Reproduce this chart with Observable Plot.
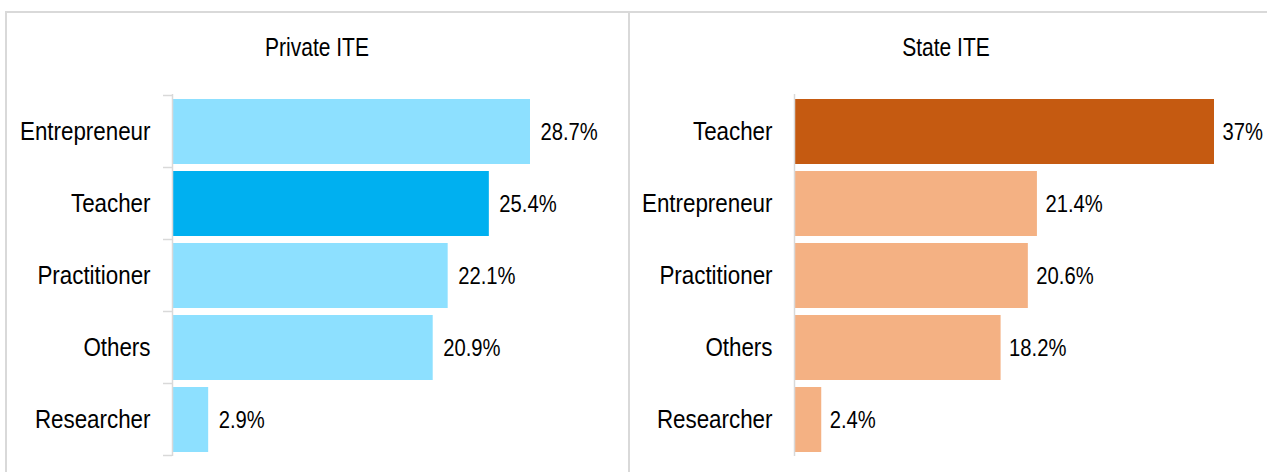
<!DOCTYPE html>
<html><head><meta charset="utf-8">
<script src="https://cdn.jsdelivr.net/npm/d3@7"></script>
<script src="https://cdn.jsdelivr.net/npm/@observablehq/plot@0.6"></script>
<style>
html,body{margin:0;padding:0;background:#fff;overflow:hidden}
#wrap{position:relative;width:1267px;height:472px;overflow:hidden;font-family:"Liberation Sans",Arial,sans-serif;color:#000}
.panel{position:absolute;top:11px;height:540px;border:2px solid #d9d9d9;box-sizing:border-box}
.title{position:absolute;top:35px;font-size:25px;line-height:25px;transform:translateX(-50%) scaleX(0.84);white-space:nowrap}
.chart{position:absolute;top:0}
</style></head>
<body>
<div id="wrap">
  <div class="panel" style="left:5px;width:625px"></div>
  <div class="panel" style="left:628px;width:700px"></div>
  <div class="title" style="left:317px">Private ITE</div>
  <div class="title" style="left:946px">State ITE</div>
  <div class="chart" id="left" style="left:0px"></div>
  <div class="chart" id="right" style="left:629px"></div>
</div>
<script>
const privateCategories = ["Entrepreneur","Teacher","Practitioner","Others","Researcher"];
const privateValues = [28.7,25.4,22.1,20.9,2.9];
const stateCategories = ["Teacher","Entrepreneur","Practitioner","Others","Researcher"];
const stateValues = [37,21.4,20.6,18.2,2.4];
const highlighted = "Teacher";

const FONT = '"Liberation Sans",Arial,sans-serif';

function panel({cats, vals, base, strong, width, marginLeft, marginRight, ticks, dx}) {
  const data = cats.map((c,i)=>({cat:c, value:vals[i]}));
  const plot = Plot.plot({
    width, height:472, marginTop:94, marginBottom:16, marginLeft, marginRight,
    style:{fontFamily:FONT, fontSize:"26px", color:"#000", background:"transparent", overflow:"visible"},
    color:{type:"identity"},
    x:{domain:[0, d3.max(vals)], axis:null},
    y:{domain:cats, paddingInner:0.1, paddingOuter:0.05, label:null},
    marks:[
      Plot.barX(data,{x:"value", y:"cat", fill:d=>d.cat===highlighted?strong:base}),
      Plot.ruleX([0],{stroke:"#d9d9d9", strokeWidth:1.5}),
      Plot.axisY({tickSize:0, tickPadding:22, fontSize:26, label:null, fill:"#000"}),
      Plot.text(data,{x:"value", y:"cat", text:d=>d.value+"%", dx, textAnchor:"start", fontSize:23.5, fill:"#000"})
    ]
  });
  if (ticks) {
    const y = plot.scale("y");
    const x0 = marginLeft;
    const gap = (y.step - y.bandwidth)/2;
    const bounds = cats.map(c=>y.apply(c)-gap);
    bounds.push(y.apply(cats[cats.length-1]) + y.bandwidth + gap);
    d3.select(plot).append("g").selectAll("line").data(bounds).join("line")
      .attr("x1", x0-9).attr("x2", x0).attr("y1", d=>d).attr("y2", d=>d)
      .attr("stroke","#d9d9d9").attr("stroke-width",1.5);
  }
  return plot;
}

function condense(svg, factor) {
  d3.select(svg).selectAll("text").each(function(){
    const len = this.getComputedTextLength();
    this.setAttribute("textLength", (len*factor).toFixed(2));
    this.setAttribute("lengthAdjust", "spacingAndGlyphs");
  });
}

const leftPlot = panel({
  cats:privateCategories, vals:privateValues, base:"#8DE0FF", strong:"#00B0F0",
  width:628, marginLeft:172, marginRight:98, ticks:true, dx:10
});
const rightPlot = panel({
  cats:stateCategories, vals:stateValues, base:"#F4B183", strong:"#C55A11",
  width:638, marginLeft:165, marginRight:53, ticks:false, dx:8
});
document.getElementById("left").append(leftPlot);
document.getElementById("right").append(rightPlot);
condense(leftPlot, 0.86);
condense(rightPlot, 0.86);
</script>
</body></html>
